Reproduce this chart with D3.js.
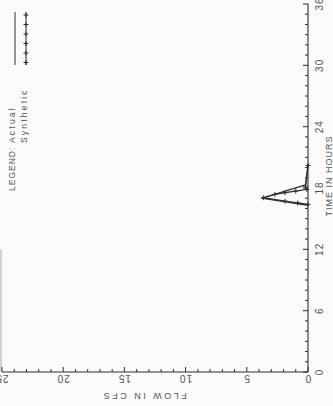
<!DOCTYPE html>
<meta charset="utf-8">
<style>
body { margin: 0; background: #fbfbfb; }
svg { display: block; }
text { font-family: "Liberation Sans", sans-serif; fill: #555; font-size: 10px; }
</style>
<script src="https://cdn.jsdelivr.net/npm/d3@7/dist/d3.min.js"></script>
<body>
<svg id="chart" width="333" height="406"></svg>
<script>
// chart is drawn turned on its side: time runs up the right edge, flow runs right-to-left
var timeTicks = [0, 6, 12, 18, 24, 30, 36];
var flowTicks = [0, 5, 10, 15, 20, 25];
var timeLabels = ["0", "6", "12", "18", "24", "30", "36"];
var flowLabels = ["0", "5", "10", "15", "20", "25"];

// hours / cfs
var actualTime = [16.3, 17.0, 18.3, 20.3];
var actualFlow = [0, 3.8, 0.2, 0];
var synthTime = [16.4, 16.54, 16.71, 17.05, 17.38, 17.54, 17.7, 17.87, 18.1, 20.2];
var synthFlow = [0, 0.84, 1.88, 3.65, 2.7, 1.88, 1.0, 0.1, 0.2, 0];

var svg = d3.select("#chart");
var ink = "#2e2e2e";

var tScale = d3.scaleLinear().domain([0, 36]).range([372, 4]);
var qScale = d3.scaleLinear().domain([0, 25]).range([308, 2]);

// faint frame edge on the left of the scan
svg.append("line")
    .attr("x1", qScale(25) - 1).attr("x2", qScale(25) - 1)
    .attr("y1", tScale(12)).attr("y2", tScale(0))
    .attr("stroke", "#aaa").attr("stroke-width", 1);

// time axis (right side)
var tAxis = svg.append("g");
tAxis.append("line")
    .attr("x1", qScale(0)).attr("x2", qScale(0))
    .attr("y1", tScale(36)).attr("y2", tScale(0))
    .attr("stroke", ink).attr("stroke-width", 1.1);
tAxis.selectAll("line.minor").data(d3.range(0, 37))
    .enter().append("line")
    .attr("class", "minor")
    .attr("x1", function(d) { return qScale(0) - (d % 6 === 0 ? 5 : 3); })
    .attr("x2", qScale(0))
    .attr("y1", function(d) { return tScale(d); })
    .attr("y2", function(d) { return tScale(d); })
    .attr("stroke", ink).attr("stroke-width", 1);
tAxis.selectAll("text").data(timeTicks)
    .enter().append("text")
    .attr("transform", function(d) { return "translate(323," + tScale(d) + ") rotate(-90)"; })
    .attr("text-anchor", "middle")
    .style("letter-spacing", "1px")
    .text(function(d, i) { return timeLabels[i]; });
svg.append("text")
    .attr("transform", "translate(332,176) rotate(-90)")
    .attr("text-anchor", "middle")
    .style("font-size", "9px")
    .style("letter-spacing", "1px")
    .text("TIME IN HOURS");

// flow axis (bottom, upside down labels)
var qAxis = svg.append("g");
qAxis.append("line")
    .attr("x1", qScale(25)).attr("x2", qScale(0))
    .attr("y1", tScale(0)).attr("y2", tScale(0))
    .attr("stroke", ink).attr("stroke-width", 1.1);
qAxis.selectAll("line.minor").data(d3.range(0, 26))
    .enter().append("line")
    .attr("class", "minor")
    .attr("x1", function(d) { return qScale(d); })
    .attr("x2", function(d) { return qScale(d); })
    .attr("y1", function(d) { return tScale(0) - (d % 5 === 0 ? 5 : 3); })
    .attr("y2", tScale(0))
    .attr("stroke", ink).attr("stroke-width", 1);
qAxis.selectAll("text").data(flowTicks)
    .enter().append("text")
    .attr("transform", function(d) { return "translate(" + qScale(d) + ",375) rotate(180)"; })
    .attr("text-anchor", "middle")
    .style("letter-spacing", "1px")
    .text(function(d, i) { return flowLabels[i]; });
svg.append("text")
    .attr("transform", "translate(144,393) rotate(180)")
    .attr("text-anchor", "middle")
    .style("font-size", "9px")
    .style("letter-spacing", "2.5px")
    .text("FLOW IN CFS");

// hydrographs
var line = d3.line()
    .x(function(d) { return qScale(d[1]); })
    .y(function(d) { return tScale(d[0]); });

var actual = d3.zip(actualTime, actualFlow);
var synth = d3.zip(synthTime, synthFlow);

svg.append("path").datum(actual)
    .attr("d", line)
    .attr("fill", "none").attr("stroke", ink).attr("stroke-width", 1.2);
svg.append("path").datum(synth)
    .attr("d", line)
    .attr("fill", "none").attr("stroke", ink).attr("stroke-width", 1.2);

var plus = "M-2.5,0H2.5M0,-2.5V2.5";
svg.selectAll("path.mark").data(synth)
    .enter().append("path")
    .attr("class", "mark")
    .attr("d", plus)
    .attr("transform", function(d) { return "translate(" + qScale(d[1]) + "," + tScale(d[0]) + ")"; })
    .attr("fill", "none").attr("stroke", ink).attr("stroke-width", 1);

// legend
var legend = svg.append("g");
legend.append("text")
    .attr("transform", "translate(15,191) rotate(-90)")
    .style("font-size", "8.5px")
    .style("letter-spacing", "1px")
    .text("LEGEND:");
legend.append("text")
    .attr("transform", "translate(15,143) rotate(-90)")
    .style("font-size", "8.5px")
    .style("letter-spacing", "2.2px")
    .text("Actual");
legend.append("text")
    .attr("transform", "translate(27,143) rotate(-90)")
    .style("font-size", "8.5px")
    .style("letter-spacing", "2.2px")
    .text("Synthetic");
legend.append("line")
    .attr("x1", 15).attr("x2", 15).attr("y1", 12).attr("y2", 65)
    .attr("stroke", ink).attr("stroke-width", 1);
legend.append("line")
    .attr("x1", 26).attr("x2", 26).attr("y1", 12).attr("y2", 65)
    .attr("stroke", ink).attr("stroke-width", 1);
legend.selectAll("path").data([15, 24.5, 34, 43.5, 53, 62.5])
    .enter().append("path")
    .attr("d", plus)
    .attr("transform", function(d) { return "translate(26," + d + ")"; })
    .attr("fill", "none").attr("stroke", ink).attr("stroke-width", 1);
</script>
</body>
